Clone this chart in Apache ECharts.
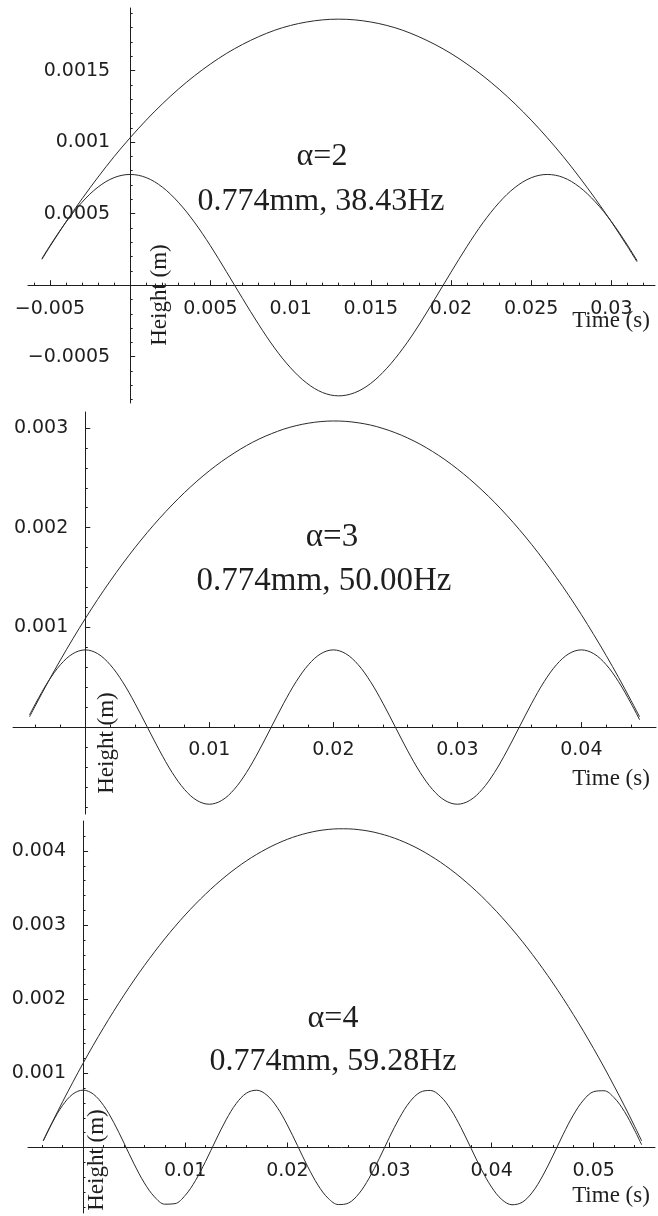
<!DOCTYPE html>
<html>
<head>
<meta charset="utf-8">
<script src="https://cdn.jsdelivr.net/npm/echarts@6/dist/echarts.min.js"></script>
<style>
  html, body { margin: 0; padding: 0; background: #fff; }
  #chart { width: 658px; height: 1216px; }
</style>
</head>
<body>
<div id="chart"></div>
<script>
// ---- alpha = 2 : 0.774 mm, 38.43 Hz ----
const time1 = [-0.0055, -0.005, -0.004, -0.003, -0.002, -0.001, 0, 0.001, 0.002, 0.003, 0.004, 0.005,
  0.006, 0.007, 0.008, 0.009, 0.010, 0.011, 0.012, 0.013, 0.014, 0.015, 0.016, 0.017, 0.018, 0.019,
  0.020, 0.021, 0.022, 0.023, 0.024, 0.025, 0.026, 0.027, 0.028, 0.029, 0.030, 0.031, 0.0316];
const ball1 = [0.000181, 0.000271, 0.000443, 0.000604, 0.000756, 0.000899, 0.001031, 0.001154, 0.001267,
  0.001370, 0.001463, 0.001546, 0.001620, 0.001683, 0.001737, 0.001782, 0.001816, 0.001840, 0.001855,
  0.001860, 0.001855, 0.001840, 0.001816, 0.001782, 0.001737, 0.001683, 0.001620, 0.001546, 0.001463,
  0.001370, 0.001267, 0.001154, 0.001031, 0.000899, 0.000756, 0.000604, 0.000443, 0.000271, 0.000163];
const plate1 = [0.000186, 0.000276, 0.000441, 0.000580, 0.000686, 0.000752, 0.000774, 0.000752, 0.000686,
  0.000580, 0.000441, 0.000276, 0.000094, -0.000092, -0.000273, -0.000439, -0.000578, -0.000684, -0.000751,
  -0.000774, -0.000752, -0.000687, -0.000581, -0.000443, -0.000279, -0.000096, 0.000090, 0.000271, 0.000437,
  0.000577, 0.000684, 0.000751, 0.000774, 0.000753, 0.000687, 0.000582, 0.000445, 0.000280, 0.000172];
const xMajor1 = [-0.005, 0.005, 0.01, 0.015, 0.02, 0.025, 0.03];
const xMinor1 = [-0.006, -0.004, -0.003, -0.002, -0.001, 0.001, 0.002, 0.003, 0.004, 0.006, 0.007, 0.008,
  0.009, 0.011, 0.012, 0.013, 0.014, 0.016, 0.017, 0.018, 0.019, 0.021, 0.022, 0.023, 0.024, 0.026, 0.027,
  0.028, 0.029, 0.031, 0.032];
const yMajor1 = [-0.0005, 0.0005, 0.001, 0.0015];
const yMinor1 = [-0.0008, -0.0007, -0.0006, -0.0004, -0.0003, -0.0002, -0.0001, 0.0001, 0.0002, 0.0003,
  0.0004, 0.0006, 0.0007, 0.0008, 0.0009, 0.0011, 0.0012, 0.0013, 0.0014, 0.0016, 0.0017, 0.0018, 0.0019];

// ---- alpha = 3 : 0.774 mm, 50.00 Hz ----
const time2 = [-0.0045, -0.004, -0.003, -0.002, -0.001, 0, 0.001, 0.002, 0.003, 0.004, 0.005, 0.006,
  0.007, 0.008, 0.009, 0.010, 0.011, 0.012, 0.013, 0.014, 0.015, 0.016, 0.017, 0.018, 0.019, 0.020,
  0.021, 0.022, 0.023, 0.024, 0.025, 0.026, 0.027, 0.028, 0.029, 0.030, 0.031, 0.032, 0.033, 0.034,
  0.035, 0.036, 0.037, 0.038, 0.039, 0.040, 0.041, 0.042, 0.043, 0.044, 0.0447];
const ball2 = [0.000102, 0.000221, 0.000453, 0.000674, 0.000886, 0.001088, 0.001281, 0.001463, 0.001636,
  0.001799, 0.001952, 0.002095, 0.002228, 0.002352, 0.002466, 0.002570, 0.002664, 0.002748, 0.002823,
  0.002888, 0.002942, 0.002988, 0.003023, 0.003048, 0.003064, 0.003070, 0.003066, 0.003052, 0.003029,
  0.002995, 0.002952, 0.002899, 0.002837, 0.002764, 0.002682, 0.002589, 0.002487, 0.002375, 0.002254,
  0.002122, 0.001981, 0.001830, 0.001669, 0.001498, 0.001318, 0.001128, 0.000927, 0.000718, 0.000498,
  0.000268, 0.000102];
const plate2 = [0.000121, 0.000239, 0.000455, 0.000626, 0.000736, 0.000774, 0.000736, 0.000626, 0.000455,
  0.000239, 0, -0.000239, -0.000455, -0.000626, -0.000736, -0.000774, -0.000736, -0.000626, -0.000455,
  -0.000239, 0, 0.000239, 0.000455, 0.000626, 0.000736, 0.000774, 0.000736, 0.000626, 0.000455, 0.000239,
  0, -0.000239, -0.000455, -0.000626, -0.000736, -0.000774, -0.000736, -0.000626, -0.000455, -0.000239,
  0, 0.000239, 0.000455, 0.000626, 0.000736, 0.000774, 0.000736, 0.000626, 0.000455, 0.000239, 0.000073];
const xMajor2 = [0.01, 0.02, 0.03, 0.04];
const xMinor2 = [-0.004, -0.002, 0.002, 0.004, 0.006, 0.008, 0.012, 0.014, 0.016, 0.018, 0.022, 0.024,
  0.026, 0.028, 0.032, 0.034, 0.036, 0.038, 0.042, 0.044];
const yMajor2 = [0.001, 0.002, 0.003];
const yMinor2 = [-0.0008, -0.0006, -0.0004, -0.0002, 0.0002, 0.0004, 0.0006, 0.0008, 0.0012, 0.0014,
  0.0016, 0.0018, 0.0022, 0.0024, 0.0026, 0.0028];

// ---- alpha = 4 : 0.774 mm, 59.28 Hz ----
const time3 = [-0.0039, -0.003, -0.002, -0.001, 0, 0.001, 0.002, 0.003, 0.004, 0.005, 0.006, 0.007,
  0.008, 0.009, 0.010, 0.011, 0.012, 0.013, 0.014, 0.015, 0.016, 0.017, 0.018, 0.019, 0.020, 0.021,
  0.022, 0.023, 0.024, 0.025, 0.026, 0.027, 0.028, 0.029, 0.030, 0.031, 0.032, 0.033, 0.034, 0.035,
  0.036, 0.037, 0.038, 0.039, 0.040, 0.041, 0.042, 0.043, 0.044, 0.045, 0.046, 0.047, 0.048, 0.049,
  0.050, 0.051, 0.052, 0.053, 0.054, 0.0547];
const ball3 = [0.000089, 0.000344, 0.000618, 0.000881, 0.001136, 0.001380, 0.001614, 0.001839, 0.002054,
  0.002259, 0.002454, 0.002639, 0.002815, 0.002981, 0.003137, 0.003283, 0.003419, 0.003546, 0.003663,
  0.003770, 0.003867, 0.003954, 0.004031, 0.004099, 0.004157, 0.004205, 0.004243, 0.004272, 0.004290,
  0.004299, 0.004298, 0.004287, 0.004267, 0.004236, 0.004196, 0.004146, 0.004086, 0.004017, 0.003937,
  0.003848, 0.003749, 0.003640, 0.003521, 0.003393, 0.003254, 0.003106, 0.002948, 0.002781, 0.002603,
  0.002416, 0.002219, 0.002012, 0.001795, 0.001568, 0.001332, 0.001086, 0.000829, 0.000564, 0.000288,
  0.000089];
const plate3 = [0.000091, 0.000339, 0.000569, 0.000721, 0.000774, 0.000721, 0.000569, 0.000339, 0.000063,
  -0.000223, -0.000477, -0.000666, -0.000764, -0.000757, -0.000646, -0.000447, -0.000186, 0.000100,
  0.000373, 0.000594, 0.000734, 0.000773, 0.000706, 0.000543, 0.000305, 0.000025, -0.000258, -0.000506,
  -0.000685, -0.000769, -0.000748, -0.000624, -0.000415, -0.000149, 0.000138, 0.000405, 0.000617,
  0.000745, 0.000770, 0.000690, 0.000515, 0.000270, -0.000013, -0.000294, -0.000534, -0.000701,
  -0.000772, -0.000738, -0.000602, -0.000383, -0.000112, 0.000175, 0.000437, 0.000640, 0.000754,
  0.000766, 0.000672, 0.000487, 0.000234, 0.000036];
const xMajor3 = [0.01, 0.02, 0.03, 0.04, 0.05];
const xMinor3 = [-0.004, -0.002, 0.002, 0.004, 0.006, 0.008, 0.012, 0.014, 0.016, 0.018, 0.022, 0.024,
  0.026, 0.028, 0.032, 0.034, 0.036, 0.038, 0.042, 0.044, 0.046, 0.048, 0.052, 0.054];
const yMajor3 = [0.001, 0.002, 0.003, 0.004];
const yMinor3 = [-0.0008, -0.0006, -0.0004, -0.0002, 0.0002, 0.0004, 0.0006, 0.0008, 0.0012, 0.0014,
  0.0016, 0.0018, 0.0022, 0.0024, 0.0026, 0.0028, 0.0032, 0.0034, 0.0036, 0.0038, 0.0042];

const alphaLabels = ['\u03B1=2', '\u03B1=3', '\u03B1=4'];
const driveLabels = ['0.774mm, 38.43Hz', '0.774mm, 50.00Hz', '0.774mm, 59.28Hz'];
const xTitle = 'Time (s)';
const yTitle = 'Height (m)';

// ---- layout of the three stacked panels ----
const panels = [
  { grid: { left: 28, top: 8, width: 627, height: 395 }, xRange: [-0.00637, 0.03272], yRange: [-0.000824, 0.001938],
    time: time1, ball: ball1, plate: plate1, xMajor: xMajor1, xMinor: xMinor1, yMajor: yMajor1, yMinor: yMinor1,
    yMargin: 20, xTitlePos: [611, 321], yTitlePos: [160, 295],
    alphaPos: [322, 157], drivePos: [321, 202], driveSize: 32 },
  { grid: { left: 13, top: 412, width: 643, height: 402 }, xRange: [-0.00583, 0.04602], yRange: [-0.000872, 0.00316],
    time: time2, ball: ball2, plate: plate2, xMajor: xMajor2, xMinor: xMinor2, yMajor: yMajor2, yMinor: yMinor2,
    yMargin: 17, xTitlePos: [611, 779], yTitlePos: [107, 743],
    alphaPos: [332, 537], drivePos: [324, 581], driveSize: 33 },
  { grid: { left: 28, top: 821, width: 627, height: 392 }, xRange: [-0.00539, 0.0560], yRange: [-0.000883, 0.004404],
    time: time3, ball: ball3, plate: plate3, xMajor: xMajor3, xMinor: xMinor3, yMajor: yMajor3, yMinor: yMinor3,
    yMargin: 17, xTitlePos: [611, 1196], yTitlePos: [97, 1160],
    alphaPos: [333, 1019], drivePos: [333, 1062], driveSize: 32 }
];

const INK = '#1e1e1e';
const tickFont = { fontFamily: 'DejaVu Sans', fontSize: 19, color: INK };
const fmt = v => String(v).replace('-', '\u2212');

const grids = [], xAxes = [], yAxes = [], series = [], graphics = [];

panels.forEach((p, i) => {
  grids.push(Object.assign({ outerBoundsMode: 'none' }, p.grid));
  const main = 2 * i;
  const tickLine = { color: INK, width: 1 };
  // main axes: line, major ticks and labels
  xAxes.push({
    type: 'value', gridIndex: i, min: p.xRange[0], max: p.xRange[1], position: 'bottom',
    axisLine: { onZero: false, lineStyle: tickLine },
    axisTick: { inside: true, length: 5, customValues: p.xMajor, lineStyle: tickLine },
    axisLabel: Object.assign({ customValues: p.xMajor, formatter: fmt, margin: 14 }, tickFont),
    splitLine: { show: false }
  });
  // minor ticks
  xAxes.push({
    type: 'value', gridIndex: i, min: p.xRange[0], max: p.xRange[1], position: 'bottom',
    axisLine: { show: false, onZero: false },
    axisTick: { inside: true, length: 2.5, customValues: p.xMinor, lineStyle: tickLine },
    axisLabel: { show: false }, splitLine: { show: false }
  });
  yAxes.push({
    type: 'value', gridIndex: i, min: p.yRange[0], max: p.yRange[1], position: 'left',
    axisLine: { onZero: false, lineStyle: tickLine },
    axisTick: { inside: true, length: 5, customValues: p.yMajor, lineStyle: tickLine },
    axisLabel: Object.assign({ customValues: p.yMajor, formatter: fmt, margin: p.yMargin }, tickFont),
    splitLine: { show: false }
  });
  yAxes.push({
    type: 'value', gridIndex: i, min: p.yRange[0], max: p.yRange[1], position: 'left',
    axisLine: { show: false, onZero: false },
    axisTick: { inside: true, length: 2.5, customValues: p.yMinor, lineStyle: tickLine },
    axisLabel: { show: false }, splitLine: { show: false }
  });

  const lineStyle = { color: '#2a2a2a', width: 1 };
  series.push({
    type: 'line', xAxisIndex: main, yAxisIndex: main, showSymbol: false, smooth: 0.35,
    lineStyle, data: p.time.map((t, k) => [t, p.ball[k]])
  });
  series.push({
    type: 'line', xAxisIndex: main, yAxisIndex: main, showSymbol: false, smooth: 0.35,
    lineStyle, data: p.time.map((t, k) => [t, p.plate[k]])
  });

  graphics.push({
    type: 'text', x: p.xTitlePos[0], y: p.xTitlePos[1],
    style: { text: xTitle, fontFamily: 'Liberation Serif', fontSize: 23, fill: INK, align: 'center', verticalAlign: 'middle' }
  });
  graphics.push({
    type: 'text', x: p.yTitlePos[0], y: p.yTitlePos[1], rotation: Math.PI / 2,
    style: { text: yTitle, fontFamily: 'Liberation Serif', fontSize: 23, fill: INK, align: 'center', verticalAlign: 'middle' }
  });
  graphics.push({
    type: 'text', x: p.alphaPos[0], y: p.alphaPos[1],
    style: { text: alphaLabels[i], fontFamily: 'Liberation Serif', fontSize: p.driveSize, fill: INK, align: 'center', verticalAlign: 'middle' }
  });
  graphics.push({
    type: 'text', x: p.drivePos[0], y: p.drivePos[1],
    style: { text: driveLabels[i], fontFamily: 'Liberation Serif', fontSize: p.driveSize, fill: INK, align: 'center', verticalAlign: 'middle' }
  });
});

const chart = echarts.init(document.getElementById('chart'), null, { renderer: 'canvas' });
chart.setOption({
  backgroundColor: '#ffffff',
  animation: false,
  grid: grids,
  xAxis: xAxes,
  yAxis: yAxes,
  series: series,
  graphic: graphics
});

// Move each pair of axes so that they cross at the origin (t = 0, h = 0).
const xOffsets = [], yOffsets = [];
panels.forEach((p, i) => {
  const main = 2 * i;
  const x0 = chart.convertToPixel({ xAxisIndex: main }, 0);
  const y0 = chart.convertToPixel({ yAxisIndex: main }, 0);
  const yShift = -(x0 - p.grid.left);
  const xShift = -((p.grid.top + p.grid.height) - y0);
  xOffsets.push({ offset: xShift }, { offset: xShift });
  yOffsets.push({ offset: yShift }, { offset: yShift });
});
chart.setOption({ xAxis: xOffsets, yAxis: yOffsets });
</script>
</body>
</html>
